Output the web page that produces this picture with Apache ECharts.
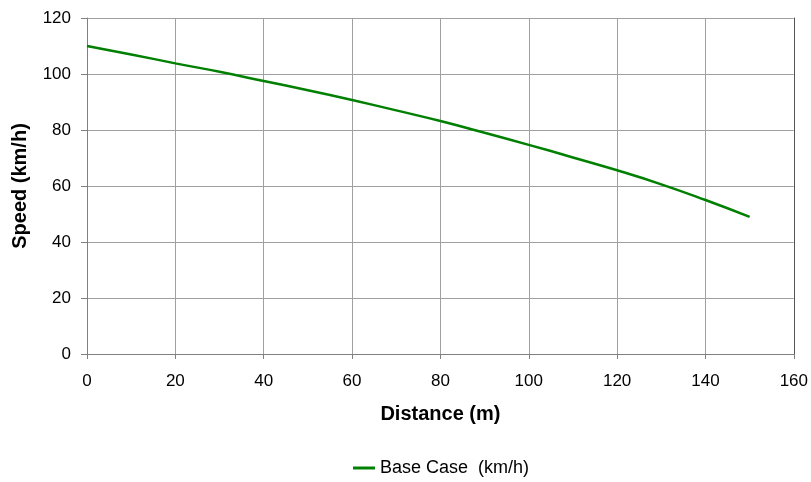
<!DOCTYPE html>
<html>
<head>
<meta charset="utf-8">
<script src="https://cdn.jsdelivr.net/npm/echarts@6/dist/echarts.min.js"></script>
<style>html,body{margin:0;padding:0;background:#fff}#c{width:811px;height:482px}</style>
</head>
<body>
<div id="c"></div>
<script>
const distance = [0, 10, 20, 30, 40, 50, 60, 70, 80, 90, 100, 110, 120, 130, 140, 150];
const speedBase = [110, 107, 103.8, 100.8, 97.5, 94.2, 90.7, 87, 83.2, 79, 74.7, 70.2, 65.6, 60.6, 55, 49];
const seriesName = 'Base Case  (km/h)';

const chart = echarts.init(document.getElementById('c'), null, {renderer: 'canvas'});
const font = 'Liberation Sans, Arial, sans-serif';
chart.setOption({
  animation: false,
  backgroundColor: '#fff',
  grid: {left: 87, right: 14, top: 18, bottom: 128, containLabel: false},
  legend: {
    top: 459, left: 353, padding: 0,
    itemWidth: 22, itemHeight: 3, itemGap: 4,
    textStyle: {fontFamily: font, fontSize: 18, color: '#000'},
    data: [{name: seriesName, icon: 'rect'}]
  },
  xAxis: {
    type: 'value', min: 0, max: 160, interval: 20,
    name: 'Distance (m)', nameLocation: 'middle', nameGap: 50,
    nameTextStyle: {fontFamily: font, fontSize: 20, fontWeight: 'bold', color: '#000'},
    axisLine: {show: true, lineStyle: {color: '#808080', width: 1}},
    axisTick: {show: true, length: 5, lineStyle: {color: '#808080'}},
    axisLabel: {fontFamily: font, fontSize: 17, color: '#000', margin: 19},
    splitLine: {show: true, lineStyle: {color: '#a0a0a0', width: 1}}
  },
  yAxis: [{
    type: 'value', min: 0, max: 120, interval: 20,
    name: 'Speed (km/h)', nameLocation: 'middle', nameGap: 57, nameRotate: 90,
    nameTextStyle: {fontFamily: font, fontSize: 20, fontWeight: 'bold', color: '#000'},
    axisLine: {show: true, lineStyle: {color: '#808080', width: 1}},
    axisTick: {show: true, length: 6, lineStyle: {color: '#808080'}},
    axisLabel: {fontFamily: font, fontSize: 17, color: '#000', margin: 16},
    splitLine: {show: true, lineStyle: {color: '#a0a0a0', width: 1}}
  }, {
    type: 'value', min: 0, max: 120, interval: 20, position: 'right',
    axisLine: {show: true, lineStyle: {color: '#555', width: 1}},
    axisTick: {show: false}, axisLabel: {show: false}, splitLine: {show: false}
  }],
  series: [{
    name: seriesName, type: 'line', smooth: true, showSymbol: false,
    data: distance.map((d, i) => [d, speedBase[i]]),
    lineStyle: {color: '#008000', width: 2.5},
    itemStyle: {color: '#008000'}
  }]
});
</script>
</body>
</html>
